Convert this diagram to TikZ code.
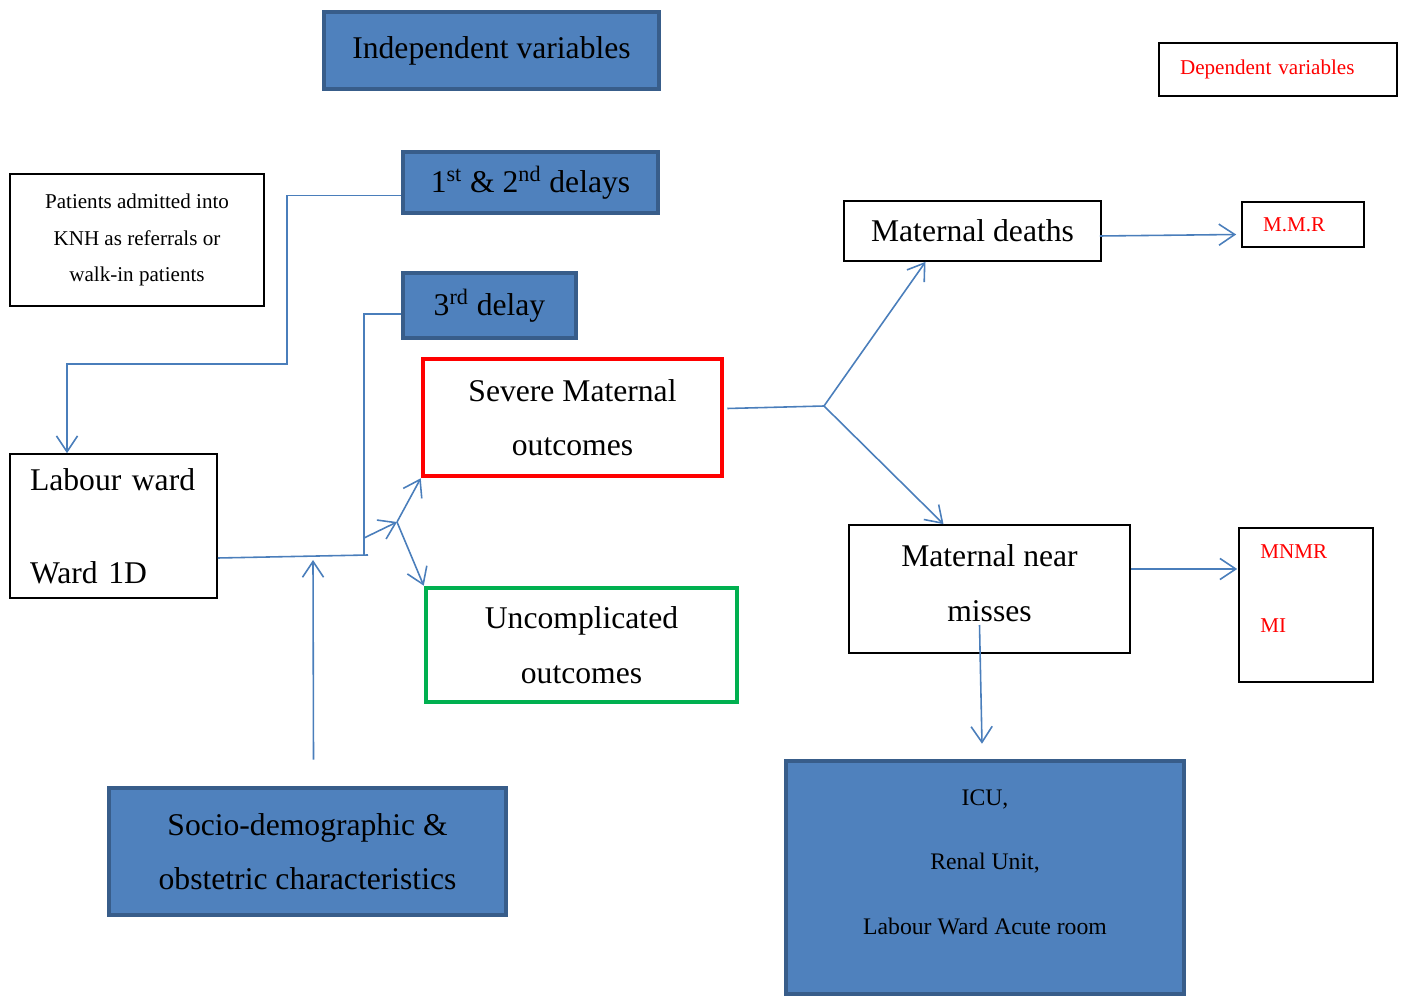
\documentclass[tikz,border=0pt]{standalone}
\usepackage{fontspec}
\setmainfont{Liberation Serif}
\usepackage{xcolor}
\usetikzlibrary{positioning,arrows.meta,calc}
\definecolor{boxblue}{RGB}{79,129,189}
\definecolor{edgeblue}{RGB}{56,93,138}
\definecolor{lineblue}{RGB}{74,126,187}
\definecolor{okgreen}{RGB}{0,176,80}

\begin{document}
\begin{tikzpicture}[
    x=0.02cm,
    y=-0.02cm,
    varbox/.style={
      draw=edgeblue,
      fill=boxblue,
      line width=2.6pt,
      align=center,
      font=\fontsize{18}{31}\selectfont
    },
    blackbox/.style={
      draw,
      line width=1pt,
      align=center,
      font=\fontsize{18}{31}\selectfont
    },
    outcome/.style={
      draw=#1,
      line width=2.6pt,
      align=center,
      font=\fontsize{18}{31}\selectfont
    },
    redtxt/.style={
      text=red,
      font=\fontsize{12}{14}\selectfont
    },
    arr/.style={
      -{Straight Barb[length=9pt,width=12pt]},
      draw=lineblue,
      line width=0.9pt
    },
    conn/.style={
      draw=lineblue,
      line width=0.9pt
    }
  ]
  \useasboundingbox (0,0) rectangle (1403,996);

  % independent side
  \node[varbox, minimum width=6.7cm, minimum height=1.54cm] (indep) at (491.5,50.5) {Independent variables};
  \node[blackbox, redtxt, text width=3.92cm, align=left, inner xsep=0.42cm, minimum height=1.06cm] (dep) at (1278,69.5) {Dependent variables};
  \node[blackbox, font=\fontsize{12}{21}\selectfont, minimum width=5.08cm, minimum height=2.64cm] (patients) at (137,240) {Patients admitted into\\KNH as referrals or\\walk-in patients};
  \node[varbox, minimum width=5.1cm, minimum height=1.22cm] (delays) at (530.5,182.5) {1\textsuperscript{st} \& 2\textsuperscript{nd} delays};
  \node[varbox, minimum width=3.46cm, minimum height=1.3cm] (delay3) at (489.5,305.5) {3\textsuperscript{rd} delay};
  \node[blackbox, align=left, text width=3.34cm, inner xsep=0.4cm, minimum height=2.88cm] (labour) at (113.5,526) {Labour ward\\[21.7pt]Ward 1D};
  \node[varbox, minimum width=7.94cm, minimum height=2.54cm] (socio) at (307.5,851.5) {Socio-demographic \&\\obstetric characteristics};

  % outcomes
  \node[outcome=red, minimum width=5.98cm, minimum height=2.34cm] (severe) at (572.5,417.5) {Severe Maternal\\outcomes};
  \node[outcome=okgreen, minimum width=6.22cm, minimum height=2.28cm] (uncompl) at (581.5,645) {Uncomplicated\\outcomes};
  \node[blackbox, minimum width=5.14cm, minimum height=1.2cm] (deaths) at (972.5,231) {Maternal deaths};
  \node[blackbox, redtxt, text width=1.6cm, align=left, inner xsep=0.42cm, minimum height=0.9cm] (mmr) at (1303,224.5) {M.M.R};
  \node[blackbox, minimum width=5.62cm, minimum height=2.56cm] (nearmiss) at (989.5,589) {Maternal near\\misses\\[-24pt]};
  \node[blackbox, minimum width=2.68cm, minimum height=3.08cm] (mnmr) at (1306,605) {};
  \node[redtxt, anchor=west, inner sep=0pt] (mnmrtxt) at (1260,552) {MNMR};
  \node[redtxt, anchor=west, inner sep=0pt] (mitxt) at (1260,626) {MI};
  \node[varbox, minimum width=7.96cm, minimum height=4.66cm] (icu) at (985,877.5) {};
  \node[font=\fontsize{13.5}{36.8}\selectfont, align=center] (icutxt) at (985,862) {ICU,\\Renal Unit,\\Labour Ward Acute room};

  % junctions
  \coordinate (bend) at (287,364);
  \coordinate (jn) at (364,555);
  \coordinate (jend) at (368,555);
  \coordinate (jtop) at (364,538);
  \coordinate (fork) at (397,522);
  \coordinate (socioin) at (313,560);
  \coordinate (split) at (824,406);

  % connectors
  \draw[arr] ($(delays.west)+(0,13)$) -| (bend) -| (labour.north -| 67,0);
  \draw[conn] ($(delay3.west)+(0,8.5)$) -| (jn);
  \draw[conn] ($(labour.east)+(0,32)$) -- (jend);
  \draw[arr] (jtop) -- (fork);
  \draw[arr] (fork) -- (severe.south west);
  \draw[arr] (fork) -- (uncompl.north west);
  \draw[arr] ($(socio.north)+(6,-26)$) -- (socioin);
  \draw[conn] ($(severe.east)+(3,-9)$) -- (split);
  \draw[arr] (split) -- ($(deaths.south)+(-47,0)$);
  \draw[arr] (split) -- ($(nearmiss.north)+(-46,0)$);
  \draw[arr] ($(deaths.east)+(-2,5)$) -- ($(mmr.west)+(-5,10)$);
  \draw[arr] ($(nearmiss.east)+(0,-20)$) -- ($(mnmr.west)+(-1,-36)$);
  \draw[arr] ($(nearmiss.center)+(-10,36)$) -- ($(icu.north)+(-3,-15)$);
\end{tikzpicture}
\end{document}
